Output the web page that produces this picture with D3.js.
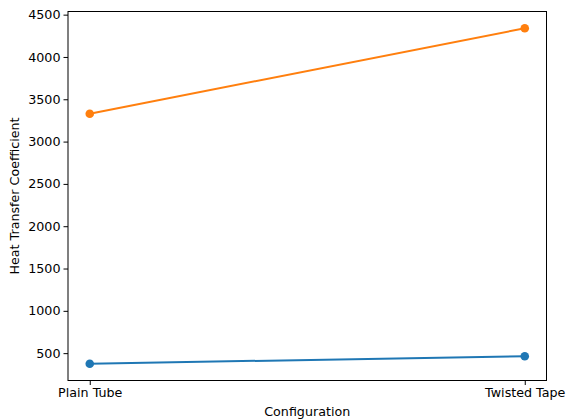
<!DOCTYPE html>
<html><head><meta charset="utf-8">
<script src="https://cdn.jsdelivr.net/npm/d3@7"></script>
<style>body{margin:0;background:#fff}svg{display:block}text{font-family:"DejaVu Sans",sans-serif}</style>
</head><body>
<svg id="c" width="566" height="420"></svg>
<script>
const categories = ["Plain Tube", "Twisted Tape"];
const seriesA = [375, 464];
const seriesB = [3329, 4339];
const colors = ["#1f77b4", "#ff7f0e"];
const yTicks = [500, 1000, 1500, 2000, 2500, 3000, 3500, 4000, 4500];

const svg = d3.select("#c");
const L = 68, R = 546.5, T = 11.5, B = 380.5;
const FS = "12.7px";

const x = d3.scaleLinear().domain([-0.05, 1.05]).range([L, R]);
const allV = seriesA.concat(seriesB);
const lo = d3.min(allV), hi = d3.max(allV), pad = (hi - lo) * 0.05;
const y = d3.scaleLinear().domain([lo - pad, hi + pad]).range([B, T]);

const gx = svg.append("g").attr("transform", `translate(0,${B})`)
  .call(d3.axisBottom(x).tickValues([0, 1]).tickFormat(i => categories[i]).tickSizeOuter(0).tickSize(4.5).tickPadding(3));
const gy = svg.append("g").attr("transform", `translate(${L},0)`)
  .call(d3.axisLeft(y).tickValues(yTicks).tickFormat(d3.format("d")).tickSizeOuter(0).tickSize(4.5).tickPadding(3));
[gx, gy].forEach(g => {
  g.select(".domain").remove();
  g.selectAll("text").style("font-size", FS).attr("fill", "#000");
  g.selectAll("line").attr("stroke", "#000").attr("stroke-width", 1);
});

svg.append("rect").attr("x", L).attr("y", T).attr("width", R - L).attr("height", B - T)
  .attr("fill", "none").attr("stroke", "#000").attr("stroke-width", 1);

[seriesA, seriesB].forEach((s, k) => {
  const pts = s.map((v, i) => [x(i), y(v)]);
  svg.append("path").attr("d", d3.line()(pts)).attr("fill", "none")
    .attr("stroke", colors[k]).attr("stroke-width", 2);
  svg.selectAll(null).data(pts).enter().append("circle")
    .attr("cx", d => d[0]).attr("cy", d => d[1]).attr("r", 4.3).attr("fill", colors[k]);
});

svg.append("text").attr("x", (L + R) / 2).attr("y", 416).attr("text-anchor", "middle")
  .style("font-size", FS).text("Configuration");
svg.append("text").attr("transform", `translate(19,${(T + B) / 2}) rotate(-90)`).attr("text-anchor", "middle")
  .style("font-size", FS).text("Heat Transfer Coefficient");
</script>
</body></html>
